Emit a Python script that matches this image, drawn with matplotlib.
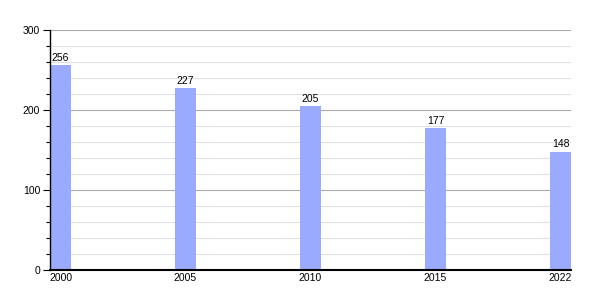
import matplotlib
matplotlib.use("Agg")
import matplotlib.pyplot as plt
from matplotlib.ticker import MultipleLocator
import numpy as np

years = ["2000", "2005", "2010", "2015", "2022"]
values = [256, 227, 205, 177, 148]

plt.rcParams['font.family'] = ['Liberation Sans', 'DejaVu Sans']

fig = plt.figure(figsize=(6, 3), dpi=100)
ax = fig.add_axes([50/600, 30/300, 521/600, 240/300])

x = np.arange(len(years)) * 1.0
w = 21/125
bars = ax.bar(x, values, width=w, align='edge', color='#99aaff', zorder=3)
for xi, v in zip(x, values):
    ax.text(xi + w/2, v + 3, str(v), ha='center', va='bottom', fontsize=7.5, zorder=4)

ax.set_xlim(0, 521/125)
ax.set_ylim(0, 300)
ax.set_xticks(x + w/2)
ax.set_xticklabels(years, fontsize=7.5)
ax.tick_params(axis='x', length=0, pad=2)
ax.yaxis.set_major_locator(MultipleLocator(100))
ax.yaxis.set_minor_locator(MultipleLocator(20))
ax.tick_params(axis='y', which='major', length=5, width=0.8, labelsize=7.5, pad=2)
ax.tick_params(axis='y', which='minor', length=3, width=0.8)
ax.grid(axis='y', which='minor', color='#e0e0e0', linewidth=0.8, zorder=0)
ax.grid(axis='y', which='major', color='#aaaaaa', linewidth=0.8, zorder=1)
for s in ['top', 'right']:
    ax.spines[s].set_visible(False)
ax.spines['left'].set_linewidth(1)
ax.spines['bottom'].set_linewidth(1.5)
ax.spines['left'].set_zorder(5)
ax.spines['bottom'].set_zorder(5)

fig.savefig("out.png", dpi=100)
